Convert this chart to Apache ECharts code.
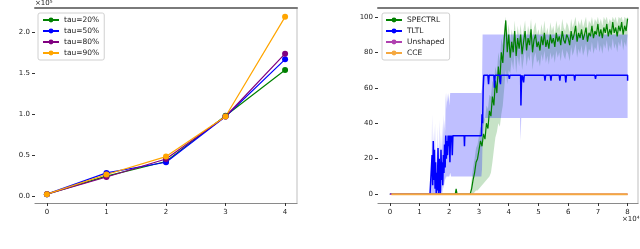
<!DOCTYPE html>
<html><head><meta charset="utf-8">
<script src="https://cdn.jsdelivr.net/npm/echarts@6/dist/echarts.min.js"></script>
<style>html,body{margin:0;padding:0;background:#fff}#c{width:640px;height:249px}</style>
</head><body><div id="c"></div>
<script>
// ---------- Left chart data ----------
const steps = [0, 1, 2, 3, 4];
const tau20 = [2000, 24000, 42000, 98000, 154000];
const tau50 = [2000, 28000, 41000, 97000, 167000];
const tau80 = [2000, 23000, 45000, 97000, 174000];
const tau90 = [2000, 26000, 48000, 97000, 219000];
const leftXTicks = [0, 1, 2, 3, 4];
const leftYTicks = [0, 50000, 100000, 150000, 200000];

// ---------- Right chart data ----------
const rightXTicks = [0, 10000, 20000, 30000, 40000, 50000, 60000, 70000, 80000];
const rightYTicks = [0, 20, 40, 60, 80, 100];

// SPECTRL: sampled every 500 steps from 27000 to 80000
const spectrlStart = 27000, spectrlStep = 500;
const spectrlEarly = [[0, 0], [22000, 0], [22300, 3], [22600, 0]];
const spectrlMean = [
  0,3,8,12,18,20,25,30,27,34,
  31,40,37,47,44,55,50,64,57,72,
  63,80,74,88,98,80,90,77,86,80,
  92,78,88,82,90,79,86,92,81,88,
  84,93,80,87,90,83,86,81,89,84,
  91,83,87,82,90,85,88,83,91,86,
  89,84,92,87,85,90,88,84,92,87,
  90,95,86,91,88,93,87,90,94,86,
  91,89,95,88,92,90,96,89,93,88,
  94,91,96,89,93,90,97,91,94,89,
  95,92,97,90,95,92,99
];
const spectrlLow = [
  0,0,0,1,2,2,3,4,5,6,
  7,8,9,10,12,18,25,32,35,40,
  38,45,50,60,70,62,70,68,76,70,
  80,68,78,72,80,70,76,82,72,78,
  75,82,70,77,80,74,76,72,79,75,
  81,74,78,73,80,76,79,74,81,77,
  80,75,82,78,76,81,79,75,83,78,
  81,85,77,82,79,84,78,81,85,77,
  82,80,86,79,83,81,87,80,84,79,
  85,82,87,80,84,81,88,82,85,80,
  86,83,88,81,86,83,90
];
const spectrlHigh = [
  0,8,15,20,26,28,33,38,36,44,
  42,50,48,56,55,64,62,72,68,80,
  75,88,84,94,100,90,96,86,93,88,
  98,86,95,89,96,87,93,98,88,95,
  91,99,88,94,97,90,93,89,96,91,
  98,90,94,89,97,92,95,90,98,93,
  96,91,99,94,92,97,95,91,99,94,
  97,100,93,98,95,99,94,97,100,93,
  98,96,100,95,99,97,100,96,99,95,
  100,98,100,96,99,97,100,98,100,96,
  100,99,100,97,100,99,100
];

// TLTL band
const tltlBandX = [13500,14000,14200,14400,14600,14800,15000,15200,15400,15600,15800,16000,16200,16400,16600,16800,17000,17200,17400,17600,17800,18000,18200,18400,18600,18800,19000,19200,19500,19800,20000,20300,20600,21000,30800,31000,31200,31500,32000,43800,44000,44200,80000];
const tltlBandLow = [0,0,0,0,0,0,0,0,0,0,0,0,0,0,0,0,0,0,2,0,5,3,8,5,10,8,10,10,10,10,10,12,10,10,10,14,30,38,43,43,30,43,43];
const tltlBandHigh = [0,10,45,15,35,12,28,40,10,25,8,38,15,30,12,42,20,35,18,40,25,45,30,42,35,57,48,57,52,57,50,57,57,57,57,60,90,90,90,90,90,90,90];

// TLTL mean
const tltlMean = [[0,0],[13500,0],[14000,0],[14200,22],[14400,5],[14600,30],[14800,8],[15000,25],[15200,3],[15400,18],[15600,0],[15800,12],[16000,2],[16200,26],[16400,0],[16600,20],[16800,6],[17000,0],[17200,25],[17400,8],[17600,18],[17800,5],[18000,22],[18200,12],[18400,28],[18600,15],[18800,33],[19000,20],[19200,30],[19400,22],[19600,33],[19800,27],[20000,33],[20200,18],[20400,33],[20600,30],[20800,33],[21000,22],[21200,33],[25000,33],[25100,27],[25200,33],[30800,33],[31000,45],[31200,40],[31400,60],[31600,67],[33000,67],[33200,62],[33400,67],[35000,67],[35200,60],[35400,67],[37000,67],[37200,62],[37400,67],[40000,67],[40200,65],[40400,67],[44000,67],[44100,50],[44300,65],[44500,67],[45000,63],[45200,67],[52000,67],[52200,64],[52400,67],[54000,67],[54200,64],[54400,67],[57000,67],[57200,64],[57400,67],[59000,67],[59200,63],[59400,67],[62000,67],[62200,64],[62400,67],[69000,67],[69200,65],[69400,67],[80000,67],[80000,64]];

const unshaped = [[0,0],[80000,0]];
const cce = [[500,0],[80000,0]];

// ---------- Build ----------
const FONT = 'DejaVu Sans';
const spectrlX = spectrlMean.map((_, i) => spectrlStart + i * spectrlStep);
const spectrlLine = spectrlEarly.concat(spectrlX.map((x, i) => [x, spectrlMean[i]]));
const spectrlBand = spectrlX.map((x, i) => [x, spectrlLow[i], spectrlHigh[i]]);
const tltlBand = tltlBandX.map((x, i) => [x, tltlBandLow[i], tltlBandHigh[i]]);

function bandSeries(rows, fill) {
  return {
    type: 'custom', xAxisIndex: 2, yAxisIndex: 2, silent: true, clip: true,
    data: rows, encode: {x: 0, y: [1, 2]},
    renderItem: function (params, api) {
      if (params.dataIndex !== 0) return null;
      const top = rows.map(r => api.coord([r[0], r[2]]));
      const bot = rows.slice().reverse().map(r => api.coord([r[0], r[1]]));
      return {type: 'polygon', shape: {points: top.concat(bot)}, style: {fill: fill}};
    }
  };
}

function frameAxes(gridIndex, min, max, ticks, fmt, isX) {
  const main = {
    gridIndex, type: 'value', min, max,
    splitLine: {show: false},
    axisLine: isX ? {show: true, onZero: false, lineStyle: {color: '#8a8a8a', width: 1.2}} : {show: false, onZero: false},
    axisTick: {show: true, length: 3, lineStyle: {color: '#333', width: 1}, customValues: ticks},
    axisLabel: {show: true, customValues: ticks, formatter: fmt, fontSize: 7, fontFamily: FONT, color: '#222', margin: isX ? 6 : 5}
  };
  const other = {
    gridIndex, type: 'value', min, max,
    position: isX ? 'top' : 'right',
    splitLine: {show: false}, axisTick: {show: false}, axisLabel: {show: false},
    axisLine: {show: true, onZero: false, lineStyle: isX ? {color: '#7a7a7a', width: 2} : {color: '#d4d4d4', width: 1.5}}
  };
  return [main, other];
}

const lx = frameAxes(0, -0.2, 4.2, leftXTicks, v => String(v), true);
const ly = frameAxes(0, -8850, 229850, leftYTicks, v => (v / 100000).toFixed(1), false);
const rx = frameAxes(1, -4000, 83500, rightXTicks, v => String(v / 10000), true);
const ry = frameAxes(1, -5, 105, rightYTicks, v => String(v), false);

function tauSeries(name, vals, color) {
  return {
    name, type: 'line', xAxisIndex: 0, yAxisIndex: 0,
    data: steps.map((s, i) => [s, vals[i]]),
    symbol: 'circle', symbolSize: 6, showSymbol: true,
    itemStyle: {color}, lineStyle: {color, width: 1.2}, z: 3
  };
}

const chart = echarts.init(document.getElementById('c'), null, {renderer: 'canvas'});
chart.setOption({
  animation: false,
  backgroundColor: '#fff',
  grid: [
    {left: 35, top: 8, width: 262, height: 195},
    {left: 378, top: 8, width: 260, height: 195}
  ],
  xAxis: [lx[0], lx[1], rx[0], rx[1]],
  yAxis: [ly[0], ly[1], ry[0], ry[1]],
  legend: [
    {
      data: ['tau=20%', 'tau=50%', 'tau=80%', 'tau=90%'],
      orient: 'vertical', left: 38, top: 13,
      itemWidth: 16, itemHeight: 6, itemGap: 3,
      padding: [3, 5, 3, 4],
      borderColor: '#d0d0d0', borderWidth: 1, borderRadius: 2,
      backgroundColor: 'rgba(255,255,255,0.8)',
      textStyle: {fontSize: 7.5, fontFamily: FONT, color: '#222'}
    },
    {
      data: ['SPECTRL', 'TLTL', 'Unshaped', 'CCE'],
      orient: 'vertical', left: 382, top: 13,
      itemWidth: 16, itemHeight: 6, itemGap: 3,
      padding: [3, 5, 3, 3],
      borderColor: '#d0d0d0', borderWidth: 1, borderRadius: 2,
      backgroundColor: 'rgba(255,255,255,0.8)',
      textStyle: {fontSize: 7.5, fontFamily: FONT, color: '#222'}
    }
  ],
  graphic: [
    {type: 'text', left: 35, top: 0, style: {text: '×10⁵', fontSize: 7, fontFamily: FONT, fill: '#222'}},
    {type: 'text', left: 622, top: 216, style: {text: '×10⁴', fontSize: 7, fontFamily: FONT, fill: '#222'}}
  ],
  series: [
    tauSeries('tau=20%', tau20, '#008000'),
    tauSeries('tau=50%', tau50, '#0000ff'),
    tauSeries('tau=80%', tau80, '#800080'),
    tauSeries('tau=90%', tau90, '#ffa500'),
    bandSeries(spectrlBand, 'rgba(0,128,0,0.22)'),
    {name: 'SPECTRL', type: 'line', xAxisIndex: 2, yAxisIndex: 2, data: spectrlLine,
     showSymbol: false, symbol: 'none', itemStyle: {color: '#008000'}, lineStyle: {color: '#008000', width: 1.2}},
    bandSeries(tltlBand, 'rgba(0,0,255,0.25)'),
    {name: 'TLTL', type: 'line', xAxisIndex: 2, yAxisIndex: 2, data: tltlMean,
     showSymbol: false, symbol: 'none', itemStyle: {color: '#0000ff'}, lineStyle: {color: '#0000ff', width: 1.5}},
    {name: 'Unshaped', type: 'line', xAxisIndex: 2, yAxisIndex: 2, data: unshaped,
     showSymbol: false, symbol: 'none', itemStyle: {color: '#b040b0'}, lineStyle: {color: '#b040b0', width: 1.5}},
    {name: 'CCE', type: 'line', xAxisIndex: 2, yAxisIndex: 2, data: cce,
     showSymbol: false, symbol: 'none', itemStyle: {color: '#f5a840'}, lineStyle: {color: '#f5a840', width: 2}}
  ]
});
</script>
</body></html>
